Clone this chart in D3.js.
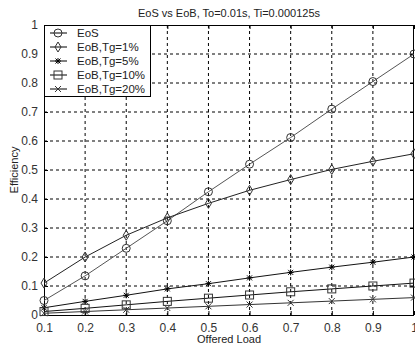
<!DOCTYPE html>
<html>
<head>
<meta charset="utf-8">
<script src="https://cdn.jsdelivr.net/npm/d3@7"></script>
<style>
  body { margin: 0; background: #fff; }
  svg { display: block; font-family: Arial, "Liberation Sans", sans-serif; }
</style>
</head>
<body>
<svg id="chart"></svg>
<script>
    // offered load values on the x axis
    var loads = [0.1, 0.2, 0.3, 0.4, 0.5, 0.6, 0.7, 0.8, 0.9, 1.0];

    // efficiency values
    var eos     = [0.050, 0.135, 0.230, 0.325, 0.425, 0.520, 0.612, 0.710, 0.805, 0.900];
    var eobTg1  = [0.110, 0.200, 0.275, 0.335, 0.385, 0.430, 0.467, 0.502, 0.530, 0.556];
    var eobTg5  = [0.025, 0.047, 0.068, 0.090, 0.108, 0.128, 0.147, 0.165, 0.182, 0.200];
    var eobTg10 = [0.012, 0.023, 0.035, 0.047, 0.058, 0.069, 0.080, 0.090, 0.100, 0.110];
    var eobTg20 = [0.006, 0.012, 0.018, 0.024, 0.030, 0.036, 0.042, 0.048, 0.054, 0.060];

    var seriesNames = ["EoS", "EoB,Tg=1%", "EoB,Tg=5%", "EoB,Tg=10%", "EoB,Tg=20%"];
    var markerTypes = ["circle", "diamond", "star", "square", "cross"];

    var xTicks = [0.1, 0.2, 0.3, 0.4, 0.5, 0.6, 0.7, 0.8, 0.9, 1];
    var yTicks = [0, 0.1, 0.2, 0.3, 0.4, 0.5, 0.6, 0.7, 0.8, 0.9, 1];

    var series = [eos, eobTg1, eobTg5, eobTg10, eobTg20].map(function (vals, i) {
        return {
            name: seriesNames[i],
            marker: markerTypes[i],
            points: vals.map(function (v, j) { return { x: loads[j], y: v }; })
        };
    });

    var svgWidth = 415;
    var svgHeight = 350;
    var margin = { top: 25, right: 1, bottom: 35, left: 44 };
    var width = svgWidth - margin.left - margin.right;
    var height = svgHeight - margin.top - margin.bottom;

    var svg = d3.select("#chart")
        .attr("width", svgWidth)
        .attr("height", svgHeight);

    var g = svg.append("g")
        .attr("transform", "translate(" + margin.left + "," + margin.top + ")");

    var xScale = d3.scaleLinear().domain([0.1, 1]).range([0, width]);
    var yScale = d3.scaleLinear().domain([0, 1]).range([height, 0]);

    // dotted grid
    g.append("g")
        .selectAll("line")
        .data(xTicks.slice(1, -1))
        .enter().append("line")
        .attr("x1", function (d) { return xScale(d); })
        .attr("x2", function (d) { return xScale(d); })
        .attr("y1", 0)
        .attr("y2", height)
        .attr("stroke", "#000")
        .attr("stroke-width", 1)
        .attr("stroke-dasharray", "3,3");

    g.append("g")
        .selectAll("line")
        .data(yTicks.slice(1, -1))
        .enter().append("line")
        .attr("x1", 0)
        .attr("x2", width)
        .attr("y1", function (d) { return yScale(d); })
        .attr("y2", function (d) { return yScale(d); })
        .attr("stroke", "#000")
        .attr("stroke-width", 1)
        .attr("stroke-dasharray", "3,3");

    // axes, ticks point inward like matlab
    var fmt = function (d) { return d === 1 ? "1" : d === 0 ? "0" : d3.format(".1f")(d); };

    var xAxis = g.append("g")
        .attr("transform", "translate(0," + height + ")")
        .call(d3.axisBottom(xScale).tickValues(xTicks).tickFormat(fmt).tickSizeInner(-4).tickSizeOuter(0).tickPadding(8));
    var yAxis = g.append("g")
        .call(d3.axisLeft(yScale).tickValues(yTicks).tickFormat(fmt).tickSizeInner(-4).tickSizeOuter(0).tickPadding(6));

    [xAxis, yAxis].forEach(function (ax) {
        ax.select(".domain").remove();
        ax.selectAll("text").attr("font-size", 12).attr("fill", "#333");
        ax.selectAll("line").attr("stroke", "#000");
    });

    // top + right ticks
    g.append("g")
        .call(d3.axisTop(xScale).tickValues(xTicks).tickFormat("").tickSizeInner(-4).tickSizeOuter(0))
        .select(".domain").remove();
    g.append("g")
        .attr("transform", "translate(" + width + ",0)")
        .call(d3.axisRight(yScale).tickValues(yTicks).tickFormat("").tickSizeInner(-4).tickSizeOuter(0))
        .select(".domain").remove();

    // plot box
    g.append("rect")
        .attr("x", 0.5).attr("y", 0.5)
        .attr("width", width - 1).attr("height", height)
        .attr("fill", "none")
        .attr("stroke", "#000");

    // markers
    function drawMarker(sel, type, size) {
        var r = size;
        if (type === "circle") {
            sel.append("circle").attr("r", r).attr("fill", "none").attr("stroke", "#333");
        } else if (type === "diamond") {
            sel.append("path")
                .attr("d", "M0," + (-r - 1) + "L" + (r - 1) + ",0L0," + (r + 1) + "L" + (-r + 1) + ",0Z")
                .attr("fill", "none").attr("stroke", "#333");
        } else if (type === "square") {
            sel.append("rect").attr("x", -r).attr("y", -r).attr("width", 2 * r).attr("height", 2 * r)
                .attr("fill", "none").attr("stroke", "#333");
        } else if (type === "star") {
            sel.append("path")
                .attr("d", "M" + (-r + 1) + ",0H" + (r - 1) + "M0," + (-r + 1) + "V" + (r - 1) +
                    "M-2.5,-2.5L2.5,2.5M-2.5,2.5L2.5,-2.5")
                .attr("stroke", "#000").attr("stroke-width", 1);
        } else {
            sel.append("path")
                .attr("d", "M-3,-3L3,3M-3,3L3,-3")
                .attr("stroke", "#333");
        }
    }

    var line = d3.line()
        .x(function (d) { return xScale(d.x); })
        .y(function (d) { return yScale(d.y); });

    var lineColors = ["#555", "#222", "#111", "#111", "#333"];

    series.forEach(function (s, i) {
        g.append("path")
            .datum(s.points)
            .attr("d", line)
            .attr("fill", "none")
            .attr("stroke", lineColors[i])
            .attr("stroke-width", 1);

        g.append("g")
            .selectAll("g")
            .data(s.points)
            .enter().append("g")
            .attr("transform", function (d) { return "translate(" + xScale(d.x) + "," + yScale(d.y) + ")"; })
            .each(function () { drawMarker(d3.select(this), s.marker, 4); });
    });

    // legend
    var legend = g.append("g").attr("transform", "translate(0,0)");
    legend.append("rect")
        .attr("x", 0.5).attr("y", 0.5)
        .attr("width", 106).attr("height", 71)
        .attr("fill", "#fff")
        .attr("stroke", "#000");

    var items = legend.selectAll("g.item")
        .data(series)
        .enter().append("g")
        .attr("class", "item")
        .attr("transform", function (d, i) { return "translate(0," + (8 + i * 14) + ")"; });

    items.append("line")
        .attr("x1", 6).attr("x2", 23)
        .attr("y1", 0).attr("y2", 0)
        .attr("stroke", "#000");
    items.each(function (d) {
        var m = d3.select(this).append("g").attr("transform", "translate(14,0)");
        drawMarker(m, d.marker, 4);
    });
    items.append("text")
        .attr("x", 33).attr("y", 0)
        .attr("dy", "0.35em")
        .attr("font-size", 11.5)
        .attr("fill", "#222")
        .text(function (d) { return d.name; });

    // title and axis labels
    svg.append("text")
        .attr("x", margin.left + width / 2)
        .attr("y", 17)
        .attr("text-anchor", "middle")
        .attr("font-size", 11)
        .attr("fill", "#222")
        .text("EoS vs EoB, To=0.01s, Ti=0.000125s");

    svg.append("text")
        .attr("x", margin.left + width / 2)
        .attr("y", 343)
        .attr("text-anchor", "middle")
        .attr("font-size", 11)
        .attr("fill", "#222")
        .text("Offered Load");

    svg.append("text")
        .attr("transform", "translate(18," + (margin.top + height / 2) + ") rotate(-90)")
        .attr("text-anchor", "middle")
        .attr("font-size", 11)
        .attr("fill", "#222")
        .text("Efficiency");
</script>
</body>
</html>
